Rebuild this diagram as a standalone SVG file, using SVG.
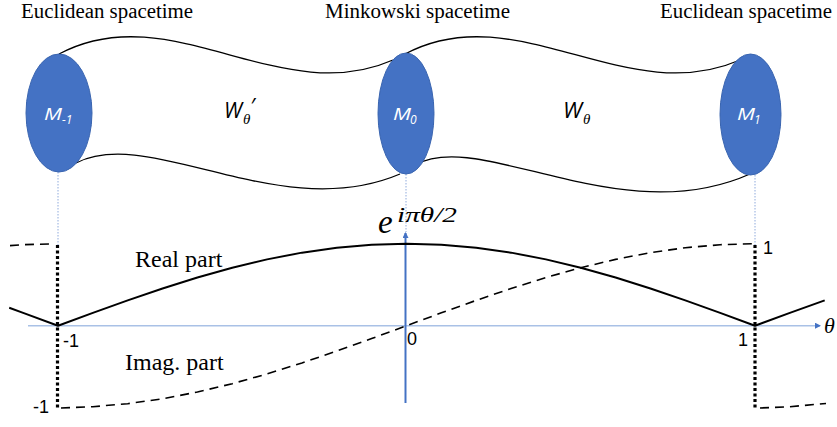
<svg xmlns="http://www.w3.org/2000/svg" width="837" height="427" viewBox="0 0 837 427">
<style>
.hdr{font-family:"Liberation Serif",serif;font-size:20px;fill:#000}
.lbl{font-family:"Liberation Serif",serif;font-size:24px;fill:#000}
.mlab{font-family:"Open Sans","Liberation Sans",sans-serif;font-style:italic;fill:#fff}
.wlab{font-family:"Open Sans","Liberation Sans",sans-serif;font-style:italic;fill:#000;font-size:22px}
.math{font-family:"Liberation Serif",serif;font-style:italic;fill:#000}
.tick{font-family:"Liberation Sans",sans-serif;font-size:18px;fill:#000}
.disk{fill:#4472C4;stroke:#3A65B0;stroke-width:1}
.tube{fill:none;stroke:#000;stroke-width:1.3}
.guide{fill:none;stroke:#8FAADC;stroke-width:1;stroke-dasharray:1.5 1.5}
.solid{fill:none;stroke:#000;stroke-width:2;stroke-linejoin:round}
.dash{fill:none;stroke:#000;stroke-width:1.6;stroke-dasharray:9 6}
.dots{fill:none;stroke:#000;stroke-width:3.2;stroke-dasharray:3 2.5}
</style>
<defs>
<marker id="ah" markerWidth="6" markerHeight="6" refX="5" refY="3" orient="auto" markerUnits="userSpaceOnUse">
<path d="M0,0 L6,3 L0,6 Z" fill="#4472C4"/>
</marker>
</defs>

<g id="headers">
<text class="hdr" x="21" y="18" textLength="172" lengthAdjust="spacingAndGlyphs">Euclidean spacetime</text>
<text class="hdr" x="325" y="18" textLength="185" lengthAdjust="spacingAndGlyphs">Minkowski spacetime</text>
<text class="hdr" x="660" y="18" textLength="172" lengthAdjust="spacingAndGlyphs">Euclidean spacetime</text>
</g>

<g id="connectors">
<path class="tube" d="M59,54 C170,-5 280,110 393,60"/>
<path class="tube" d="M76,163 C150,125 280,225 400,174"/>
<path class="tube" d="M405,54 C516,-5 626,110 740,60"/>
<path class="tube" d="M415,165 C480,128 620,232 750,174"/>
<path class="guide" d="M58,172 V245"/>
<path class="guide" d="M406,174 V232"/>
<path class="guide" d="M755,175 V245"/>
</g>

<g id="M-1">
<ellipse class="disk" cx="59" cy="113" rx="33" ry="59"/>
<text class="mlab" x="44" y="120" font-size="16" textLength="18" lengthAdjust="spacingAndGlyphs">M</text>
<text class="mlab" x="62" y="124" font-size="12">-1</text>
</g>
<g id="M0">
<ellipse class="disk" cx="406" cy="113.5" rx="28" ry="60.5"/>
<text class="mlab" x="393" y="120" font-size="16" textLength="18" lengthAdjust="spacingAndGlyphs">M</text>
<text class="mlab" x="410" y="124" font-size="12">0</text>
</g>
<g id="M1">
<ellipse class="disk" cx="750.5" cy="114.5" rx="30.5" ry="60.5"/>
<text class="mlab" x="737" y="120" font-size="16" textLength="18" lengthAdjust="spacingAndGlyphs">M</text>
<text class="mlab" x="754" y="124" font-size="12">1</text>
</g>

<g id="W-prime">
<text class="wlab" x="224" y="118" font-size="25" textLength="18" lengthAdjust="spacingAndGlyphs">W</text>
<text class="math" x="243" y="124" font-size="15">θ</text>
<text class="wlab" x="250" y="114" font-size="18">′</text>
</g>
<g id="W">
<text class="wlab" x="563" y="118" font-size="25" textLength="19" lengthAdjust="spacingAndGlyphs">W</text>
<text class="math" x="583" y="124" font-size="15">θ</text>
</g>

<g id="plot">
<line x1="28" y1="325.7" x2="820" y2="325.7" stroke="#A9C1E6" stroke-width="1.6" marker-end="url(#ah)"/>
<line x1="405.5" y1="403" x2="405.5" y2="233" stroke="#4472C4" stroke-width="2" marker-end="url(#ah)"/>
<path class="dots" d="M57.5,245 V410"/>
<path class="dots" d="M755,245 V410"/>
<path class="solid" d="M9.2,307.8 L23.15,312.87 L58,325.7 L92.85,312.87 L127.7,300.36 L162.55,288.47 L197.4,277.5 L232.25,267.72 L267.1,259.36 L301.95,252.64 L336.8,247.71 L371.65,244.71 L406.5,243.7 L441.35,244.71 L476.2,247.71 L511.05,252.64 L545.9,259.36 L580.75,267.72 L615.6,277.5 L650.45,288.47 L685.3,300.36 L720.15,312.87 L755,325.7 L789.85,312.87 L824.7,300.36"/>
<path class="dash" d="M61,408 L92.85,406.69 L127.7,403.69 L162.55,398.76 L197.4,392.04 L232.25,383.68 L267.1,373.9 L301.95,362.93 L336.8,351.04 L371.65,338.53 L406.5,325.7 L441.35,312.87 L476.2,300.36 L511.05,288.47 L545.9,277.5 L580.75,267.72 L615.6,259.36 L650.45,252.64 L685.3,247.71 L720.15,244.71 L752,243.8"/>
<path class="dash" d="M10,245.6 L23.15,244.71 L54,243.8"/>
<path class="dash" d="M760,408 L789.85,406.69 L826,403.5"/>
<text class="lbl" x="135" y="267">Real part</text>
<text class="lbl" x="125" y="370">Imag. part</text>
<text class="math" x="378" y="233" font-size="33">e</text>
<text class="math" x="397" y="222" font-size="21" textLength="60" lengthAdjust="spacingAndGlyphs">iπθ/2</text>
<text class="math" x="824" y="333" font-size="22">θ</text>
<text class="tick" x="63" y="347">-1</text>
<text class="tick" x="33" y="413">-1</text>
<text class="tick" x="407" y="345">0</text>
<text class="tick" x="738" y="346">1</text>
<text class="tick" x="763" y="254">1</text>
</g>
</svg>
